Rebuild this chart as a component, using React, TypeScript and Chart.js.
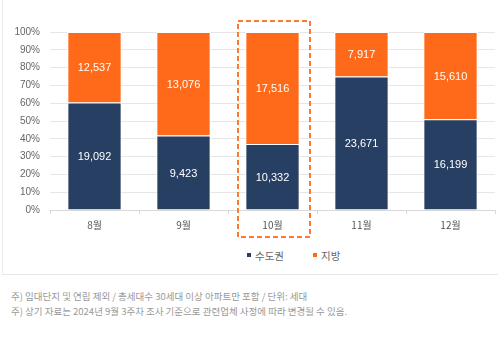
import React, { useEffect, useRef } from "react";
import { Chart, registerables } from "chart.js";

Chart.register(...registerables);

const categories = ["8월", "9월", "10월", "11월", "12월"];
const capitalValues = [19092, 9423, 10332, 23671, 16199];
const regionalValues = [12537, 13076, 17516, 7917, 15610];
const seriesNames = ["수도권", "지방"];
const yTicks = [0, 10, 20, 30, 40, 50, 60, 70, 80, 90, 100];
const highlightIndex = 2;
const notes = [
  "주) 임대단지 및 연립 제외 / 총세대수 30세대 이상 아파트만 포함 / 단위: 세대",
  "주) 상기 자료는 2024년 9월 3주차 조사 기준으로 관련업체 사정에 따라 변경될 수 있음.",
];

const NAVY = "#273f63";
const ORANGE = "#ff6a1a";

const totals = capitalValues.map((v, i) => v + regionalValues[i]);
const capitalPct = capitalValues.map((v, i) => (v / totals[i]) * 100);
const regionalPct = regionalValues.map((v, i) => (v / totals[i]) * 100);

const labelPlugin = {
  id: "segLabels",
  afterDatasetsDraw(chart: any) {
    const ctx = chart.ctx;
    ctx.save();
    ctx.fillStyle = "#ffffff";
    ctx.font = "11px 'Liberation Sans', Arial, sans-serif";
    ctx.textAlign = "center";
    ctx.textBaseline = "middle";
    const raws = [capitalValues, regionalValues];
    chart.data.datasets.forEach((ds: any, di: number) => {
      const meta = chart.getDatasetMeta(di);
      meta.data.forEach((bar: any, i: number) => {
        const mid = (bar.y + bar.base) / 2;
        ctx.fillText(raws[di][i].toLocaleString("en-US"), bar.x, mid + 1);
      });
    });
    ctx.restore();
  },
  afterDraw(chart: any) {
    const ctx = chart.ctx;
    const xs = chart.scales.x;
    const area = chart.chartArea;
    const cx = xs.getPixelForValue(highlightIndex);
    ctx.save();
    ctx.strokeStyle = "#ff7a2e";
    ctx.lineWidth = 2;
    ctx.setLineDash([5, 3]);
    ctx.strokeRect(cx - 34.5, area.top - 11, 72, area.bottom - area.top + 38);
    ctx.restore();
  },
};

export default function App() {
  const ref = useRef<HTMLCanvasElement>(null);
  useEffect(() => {
    document.body.style.margin = "0";
    const chart = new Chart(ref.current!, {
      type: "bar",
      data: {
        labels: categories,
        datasets: [
          {
            label: seriesNames[0],
            data: capitalPct,
            backgroundColor: NAVY,
            borderColor: "#ffffff",
            borderWidth: 1,
            categoryPercentage: 0.61,
            barPercentage: 1,
          },
          {
            label: seriesNames[1],
            data: regionalPct,
            backgroundColor: ORANGE,
            borderColor: "#ffffff",
            borderWidth: 1,
            categoryPercentage: 0.61,
            barPercentage: 1,
          },
        ],
      },
      options: {
        animation: false,
        responsive: false,
        maintainAspectRatio: false,
        layout: { padding: { top: 32, right: 3, left: 0, bottom: 0 } },
        plugins: { legend: { display: false }, tooltip: { enabled: false } },
        scales: {
          x: {
            stacked: true,
            offset: true,
            grid: {
              display: true,
              drawOnChartArea: false,
              drawTicks: true,
              tickLength: 4,
              color: "#d9d9d9",
              offset: true,
            },
            border: { display: true, color: "#d9d9d9" },
            ticks: {
              color: "#555",
              font: { size: 10, family: "'Noto Sans CJK KR', sans-serif" },
              padding: 5,
            },
            afterFit(s: any) {
              s.height = 35;
            },
          },
          y: {
            stacked: true,
            min: 0,
            max: 100,
            afterBuildTicks(s: any) {
              s.ticks = yTicks.map((v) => ({ value: v }));
            },
            grid: { color: "#e6e6e6", drawTicks: false },
            border: { display: false },
            ticks: {
              color: "#666",
              padding: 10,
              font: { size: 10, family: "'Liberation Sans', Arial, sans-serif" },
              callback: (v: any) => v + "%",
            },
            afterFit(s: any) {
              s.width = 50;
            },
          },
        },
      },
      plugins: [labelPlugin],
    });
    return () => chart.destroy();
  }, []);

  const legendItem = (color: string, text: string, left: number) => (
    <div style={{ position: "absolute", left, top: 247, height: 16, display: "flex", alignItems: "center" }}>
      <span style={{ width: 4, height: 4, background: color, display: "inline-block", marginRight: 4 }} />
      <span style={{ fontSize: 10.5, color: "#666", fontFamily: "'Noto Sans CJK KR', sans-serif" }}>{text}</span>
    </div>
  );

  return (
    <div style={{ position: "relative", width: 498, height: 338, overflow: "hidden", background: "#fff" }}>
      <div
        style={{
          position: "absolute",
          left: 2,
          top: -5,
          width: 600,
          height: 280,
          borderLeft: "1px solid #ececec",
          borderBottom: "1px solid #e6e6e6",
          boxSizing: "border-box",
        }}
      />
      <canvas ref={ref} width={498} height={245} style={{ position: "absolute", left: 0, top: 0 }} />
      {legendItem(NAVY, seriesNames[0], 247)}
      {legendItem(ORANGE, seriesNames[1], 313)}
      {notes.map((n, i) => (
        <div
          key={i}
          style={{
            position: "absolute",
            left: 11,
            top: 289 + i * 15,
            fontSize: 9.5,
            color: "#999",
            whiteSpace: "nowrap",
            fontFamily: "'Noto Sans CJK KR', sans-serif",
            lineHeight: "14px",
          }}
        >
          {n}
        </div>
      ))}
    </div>
  );
}
